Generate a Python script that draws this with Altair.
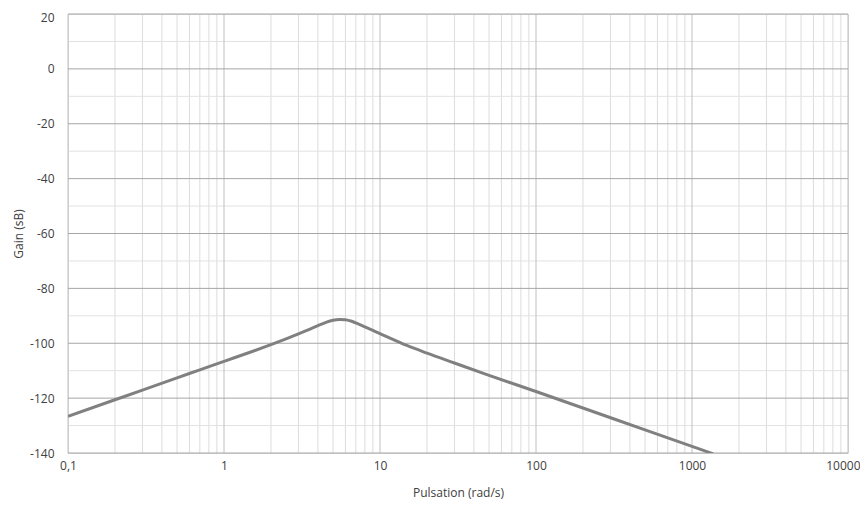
import altair as alt
import pandas as pd

# curve
omega = [0.1, 0.2, 0.3, 0.5, 0.7, 1, 1.5, 2, 2.5, 3, 3.5, 4, 4.5, 5, 5.5, 6, 6.5, 7, 8, 9, 10, 12, 15, 20,
         30, 50, 100, 200, 500, 1000, 1370]
gain = [-126.6, -120.6, -117.1, -112.6, -109.7, -106.6, -103.1, -100.5, -98.4, -96.6, -95.0, -93.6, -92.4,
        -91.6, -91.3, -91.4, -91.9, -92.6, -94.0, -95.3, -96.5, -98.5, -100.9, -103.6,
        -107.2, -111.7, -117.6, -123.6, -131.6, -137.6, -140.3]

x_major = [0.1, 1, 10, 100, 1000, 10000]
x_minor = [k * d for d in [0.1, 1, 10, 100, 1000] for k in range(2, 10)]
y_major = [20, 0, -20, -40, -60, -80, -100, -120, -140]
y_minor = [10, -10, -30, -50, -70, -90, -110, -130]

FONT = "Open Sans"
TXT = "#404040"

xs = alt.Scale(type="log", domain=[0.1, 10000], nice=False)
ys = alt.Scale(domain=[-140, 20], nice=False, zero=False)

x_axis = alt.Axis(values=x_major, grid=False, domain=False, ticks=False, labelPadding=7,
                  labelExpr="datum.value < 0.5 ? '0,1' : toString(datum.value)",
                  labelAlign={"condition": {"test": "datum.value > 5000", "value": "right"}, "value": "center"},
                  labelOffset={"condition": {"test": "datum.value > 5000", "value": 12}, "value": 0},
                  labelFont=FONT, labelFontSize=12, labelColor=TXT,
                  titleFont=FONT, titleFontSize=12, titleFontWeight="normal", titleColor=TXT,
                  titleY=39, titleBaseline="middle", labelFlush=False, labelOverlap=False)
y_axis = alt.Axis(values=y_major, grid=False, domain=False, ticks=False, labelPadding=14,
                  labelExpr="toString(datum.value)",
                  labelOffset={"condition": {"test": "datum.value > 15", "value": 3}, "value": 0},
                  labelFont=FONT, labelFontSize=12, labelColor=TXT,
                  titleFont=FONT, titleFontSize=12, titleFontWeight="normal", titleColor=TXT,
                  titleX=-50, titleBaseline="middle", labelFlush=False, labelOverlap=False)

XT = "Pulsation (rad/s)"
YT = "Gain (sB)"

df = pd.DataFrame({"w": omega, "g": gain})

def vrules(vals, color):
    return alt.Chart(pd.DataFrame({"w": vals})).mark_rule(color=color, strokeWidth=1).encode(
        x=alt.X("w:Q", scale=xs, axis=x_axis, title=XT))

def hrules(vals, color):
    return alt.Chart(pd.DataFrame({"g": vals})).mark_rule(color=color, strokeWidth=1).encode(
        y=alt.Y("g:Q", scale=ys, axis=y_axis, title=YT))

line = alt.Chart(df).mark_line(color="#808080", strokeWidth=3, clip=True, interpolate="monotone").encode(
    x=alt.X("w:Q", scale=xs, title=XT, axis=x_axis),
    y=alt.Y("g:Q", scale=ys, title=YT, axis=y_axis),
)

chart = alt.layer(
    vrules(x_minor, "#dcdcdc"),
    hrules(y_minor, "#e2e2e2"),
    vrules(x_major, "#c0c0c0"),
    hrules(y_major, "#a6a6a6"),
    line,
).properties(
    width=780, height=439,
    autosize=alt.AutoSizeParams(type="none"),
    padding={"left": 60, "top": 6, "right": 12, "bottom": 48},
).configure_view(stroke=None).configure(background="white")

chart.save("out.html", embed_options={"renderer": "svg", "actions": False})
